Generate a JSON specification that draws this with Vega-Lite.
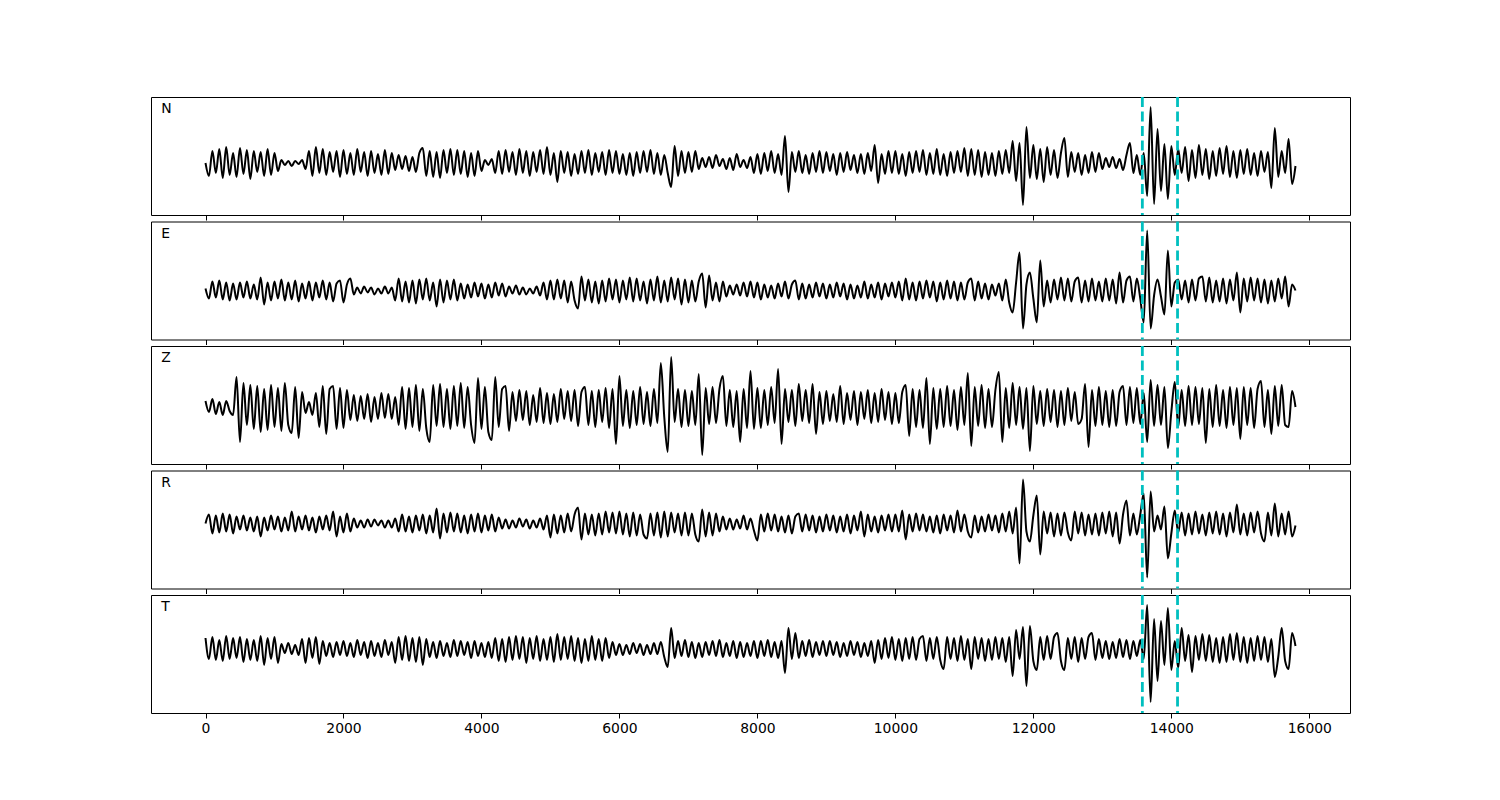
{"$schema":"https://vega.github.io/schema/vega-lite/v6.json","padding":{"left":150,"top":95,"right":0,"bottom":0},"autosize":{"type":"pad"},"background":"white","spacing":6.5,"bounds":"flush","config":{"view":{"stroke":"black","strokeWidth":1},"font":"DejaVu Sans"},
"datasets":{"w":[
{"t":0,"N":0,"E":2,"Z":6,"R":0,"T":11},{"t":50,"N":-13,"E":-8,"Z":-5,"R":9,"T":-10},{"t":100,"N":12,"E":9,"Z":8,"R":-10,"T":12},{"t":150,"N":-10,"E":-7,"Z":-7,"R":8,"T":-11},{"t":200,"N":14,"E":10,"Z":5,"R":-9,"T":9},{"t":250,"N":-15,"E":-9,"Z":-8,"R":10,"T":-12},{"t":300,"N":16,"E":8,"Z":6,"R":-8,"T":13},{"t":350,"N":-12,"E":-10,"Z":-4,"R":9,"T":-10},{"t":400,"N":10,"E":7,"Z":-8,"R":-10,"T":11},{"t":450,"N":-14,"E":-9,"Z":30,"R":7,"T":-9},{"t":500,"N":15,"E":8,"Z":-35,"R":-6,"T":12},{"t":550,"N":-11,"E":-7,"Z":24,"R":8,"T":-13},{"t":600,"N":13,"E":9,"Z":-18,"R":-7,"T":10},{"t":650,"N":-16,"E":-8,"Z":22,"R":6,"T":-11},{"t":700,"N":12,"E":6,"Z":-22,"R":-8,"T":9},{"t":750,"N":-9,"E":-9,"Z":21,"R":7,"T":-12},{"t":800,"N":11,"E":13,"Z":-25,"R":-13,"T":13},{"t":850,"N":-13,"E":-14,"Z":18,"R":6,"T":-16},{"t":900,"N":14,"E":8,"Z":-23,"R":-7,"T":11},{"t":950,"N":-12,"E":-10,"Z":22,"R":8,"T":-10},
{"t":1000,"N":10,"E":9,"Z":-20,"R":-6,"T":12},{"t":1050,"N":-8,"E":-8,"Z":19,"R":7,"T":-14},{"t":1100,"N":3,"E":11,"Z":-24,"R":-8,"T":5},{"t":1150,"N":-2,"E":-10,"Z":24,"R":6,"T":-4},{"t":1200,"N":2,"E":8,"Z":-18,"R":-7,"T":6},{"t":1250,"N":-3,"E":-9,"Z":-26,"R":12,"T":-5},{"t":1300,"N":2,"E":10,"Z":20,"R":-8,"T":4},{"t":1350,"N":-1,"E":-11,"Z":-31,"R":7,"T":-6},{"t":1400,"N":3,"E":7,"Z":15,"R":-6,"T":10},{"t":1450,"N":-6,"E":-8,"Z":-6,"R":8,"T":-14},{"t":1500,"N":12,"E":9,"Z":5,"R":-7,"T":11},{"t":1550,"N":-13,"E":-10,"Z":-8,"R":6,"T":-9},{"t":1600,"N":16,"E":8,"Z":14,"R":-9,"T":12},{"t":1650,"N":-10,"E":-7,"Z":-20,"R":7,"T":-15},{"t":1700,"N":14,"E":10,"Z":21,"R":-6,"T":8},{"t":1750,"N":-12,"E":-9,"Z":-27,"R":8,"T":-7},{"t":1800,"N":11,"E":8,"Z":18,"R":-7,"T":6},{"t":1850,"N":-9,"E":-11,"Z":21,"R":12,"T":-8},{"t":1900,"N":12,"E":7,"Z":-22,"R":-13,"T":7},{"t":1950,"N":-14,"E":10,"Z":19,"R":7,"T":-6},
{"t":2000,"N":13,"E":-12,"Z":-21,"R":-9,"T":8},{"t":2050,"N":-11,"E":6,"Z":17,"R":10,"T":-7},{"t":2100,"N":10,"E":12,"Z":-13,"R":-8,"T":6},{"t":2150,"N":-12,"E":-4,"Z":12,"R":5,"T":-8},{"t":2200,"N":14,"E":3,"Z":-14,"R":-4,"T":9},{"t":2250,"N":-9,"E":-3,"Z":11,"R":3,"T":-6},{"t":2300,"N":11,"E":4,"Z":-12,"R":-4,"T":7},{"t":2350,"N":-13,"E":-2,"Z":13,"R":4,"T":-9},{"t":2400,"N":12,"E":3,"Z":-15,"R":-3,"T":8},{"t":2450,"N":-10,"E":-4,"Z":10,"R":4,"T":-7},{"t":2500,"N":9,"E":2,"Z":-12,"R":-2,"T":6},{"t":2550,"N":-12,"E":-3,"Z":14,"R":3,"T":-8},{"t":2600,"N":13,"E":4,"Z":-11,"R":-4,"T":9},{"t":2650,"N":-11,"E":-3,"Z":13,"R":3,"T":-6},{"t":2700,"N":10,"E":3,"Z":-12,"R":-4,"T":7},{"t":2750,"N":-7,"E":-10,"Z":10,"R":5,"T":-14},{"t":2800,"N":8,"E":12,"Z":-18,"R":-8,"T":12},{"t":2850,"N":-6,"E":-11,"Z":20,"R":9,"T":-11},{"t":2900,"N":7,"E":9,"Z":-22,"R":-8,"T":13},{"t":2950,"N":-8,"E":-12,"Z":19,"R":7,"T":-12},
{"t":3000,"N":6,"E":10,"Z":-20,"R":-9,"T":11},{"t":3050,"N":-9,"E":-13,"Z":22,"R":8,"T":-13},{"t":3100,"N":10,"E":11,"Z":-24,"R":-7,"T":12},{"t":3150,"N":15,"E":-9,"Z":18,"R":9,"T":-16},{"t":3200,"N":-13,"E":12,"Z":-21,"R":-10,"T":10},{"t":3250,"N":12,"E":-10,"Z":-35,"R":8,"T":-8},{"t":3300,"N":-14,"E":8,"Z":22,"R":-9,"T":7},{"t":3350,"N":11,"E":-16,"Z":-19,"R":15,"T":-9},{"t":3400,"N":-15,"E":11,"Z":23,"R":-15,"T":8},{"t":3450,"N":13,"E":-12,"Z":-20,"R":10,"T":-7},{"t":3500,"N":-10,"E":10,"Z":18,"R":-9,"T":6},{"t":3550,"N":14,"E":-9,"Z":-22,"R":11,"T":-8},{"t":3600,"N":-12,"E":11,"Z":21,"R":-8,"T":9},{"t":3650,"N":13,"E":-10,"Z":-19,"R":10,"T":-7},{"t":3700,"N":-11,"E":7,"Z":24,"R":-9,"T":8},{"t":3750,"N":12,"E":-8,"Z":-21,"R":8,"T":-6},{"t":3800,"N":-14,"E":6,"Z":20,"R":-10,"T":7},{"t":3850,"N":10,"E":-7,"Z":-18,"R":9,"T":-9},{"t":3900,"N":-13,"E":8,"Z":-36,"R":-8,"T":8},{"t":3950,"N":12,"E":-6,"Z":29,"R":10,"T":-7},
{"t":4000,"N":-8,"E":7,"Z":-22,"R":-9,"T":6},{"t":4050,"N":3,"E":-8,"Z":20,"R":8,"T":-8},{"t":4100,"N":-2,"E":6,"Z":-25,"R":-7,"T":7},{"t":4150,"N":4,"E":-7,"Z":-33,"R":9,"T":-9},{"t":4200,"N":-10,"E":8,"Z":30,"R":-8,"T":11},{"t":4250,"N":12,"E":-5,"Z":-20,"R":6,"T":-12},{"t":4300,"N":-11,"E":7,"Z":18,"R":-5,"T":10},{"t":4350,"N":13,"E":-6,"Z":21,"R":4,"T":-13},{"t":4400,"N":-9,"E":4,"Z":-24,"R":-5,"T":12},{"t":4450,"N":11,"E":-3,"Z":15,"R":3,"T":-11},{"t":4500,"N":-12,"E":5,"Z":-14,"R":-4,"T":13},{"t":4550,"N":14,"E":-4,"Z":17,"R":5,"T":-10},{"t":4600,"N":-10,"E":3,"Z":-13,"R":-3,"T":12},{"t":4650,"N":12,"E":-4,"Z":16,"R":4,"T":-14},{"t":4700,"N":-13,"E":2,"Z":-18,"R":-5,"T":11},{"t":4750,"N":11,"E":-3,"Z":12,"R":3,"T":-10},{"t":4800,"N":-9,"E":4,"Z":-15,"R":-4,"T":13},{"t":4850,"N":13,"E":-5,"Z":19,"R":5,"T":-12},{"t":4900,"N":-11,"E":8,"Z":-16,"R":-6,"T":10},{"t":4950,"N":16,"E":-9,"Z":14,"R":8,"T":-11},
{"t":5000,"N":-12,"E":10,"Z":-17,"R":-14,"T":12},{"t":5050,"N":10,"E":-9,"Z":13,"R":9,"T":-13},{"t":5100,"N":-19,"E":11,"Z":-15,"R":-10,"T":15},{"t":5150,"N":12,"E":-8,"Z":18,"R":8,"T":-11},{"t":5200,"N":-10,"E":10,"Z":-12,"R":-9,"T":12},{"t":5250,"N":11,"E":-12,"Z":16,"R":10,"T":-10},{"t":5300,"N":-13,"E":9,"Z":-14,"R":-8,"T":13},{"t":5350,"N":9,"E":-10,"Z":17,"R":9,"T":-12},{"t":5400,"N":-11,"E":-18,"Z":-19,"R":16,"T":11},{"t":5450,"N":12,"E":14,"Z":15,"R":-16,"T":-14},{"t":5500,"N":-10,"E":-10,"Z":20,"R":10,"T":10},{"t":5550,"N":13,"E":11,"Z":-18,"R":-11,"T":-12},{"t":5600,"N":-12,"E":-12,"Z":16,"R":9,"T":13},{"t":5650,"N":10,"E":9,"Z":-20,"R":-12,"T":-11},{"t":5700,"N":-9,"E":-13,"Z":17,"R":10,"T":10},{"t":5750,"N":11,"E":10,"Z":-15,"R":-11,"T":-12},{"t":5800,"N":-12,"E":-11,"Z":19,"R":12,"T":11},{"t":5850,"N":13,"E":12,"Z":-21,"R":-9,"T":-9},{"t":5900,"N":-10,"E":-9,"Z":18,"R":11,"T":7},{"t":5950,"N":12,"E":11,"Z":-37,"R":-10,"T":-6},
{"t":6000,"N":-11,"E":-12,"Z":31,"R":12,"T":5},{"t":6050,"N":9,"E":10,"Z":-19,"R":-11,"T":-6},{"t":6100,"N":-12,"E":-9,"Z":17,"R":10,"T":4},{"t":6150,"N":10,"E":13,"Z":-21,"R":-13,"T":-5},{"t":6200,"N":-13,"E":-11,"Z":16,"R":11,"T":6},{"t":6250,"N":11,"E":12,"Z":-18,"R":-12,"T":-4},{"t":6300,"N":-10,"E":-10,"Z":20,"R":9,"T":5},{"t":6350,"N":12,"E":9,"Z":-17,"R":-11,"T":-6},{"t":6400,"N":-9,"E":-13,"Z":15,"R":-15,"T":4},{"t":6450,"N":13,"E":11,"Z":-19,"R":10,"T":-5},{"t":6500,"N":-11,"E":-10,"Z":18,"R":-12,"T":6},{"t":6550,"N":10,"E":14,"Z":-16,"R":11,"T":-5},{"t":6600,"N":-12,"E":-12,"Z":44,"R":-14,"T":7},{"t":6650,"N":8,"E":10,"Z":-10,"R":12,"T":-8},{"t":6700,"N":-10,"E":-11,"Z":-45,"R":-13,"T":-18},{"t":6750,"N":-24,"E":13,"Z":50,"R":11,"T":21},{"t":6800,"N":17,"E":-9,"Z":-15,"R":-9,"T":-9},{"t":6850,"N":-13,"E":12,"Z":18,"R":10,"T":8},{"t":6900,"N":12,"E":-14,"Z":-20,"R":-12,"T":-7},{"t":6950,"N":-10,"E":11,"Z":17,"R":11,"T":9},
{"t":7000,"N":11,"E":-12,"Z":-19,"R":-12,"T":-8},{"t":7050,"N":-9,"E":10,"Z":16,"R":10,"T":7},{"t":7100,"N":12,"E":-11,"Z":-18,"R":-11,"T":-9},{"t":7150,"N":-6,"E":9,"Z":33,"R":-18,"T":6},{"t":7200,"N":5,"E":17,"Z":-48,"R":14,"T":-8},{"t":7250,"N":-4,"E":-17,"Z":19,"R":-13,"T":7},{"t":7300,"N":6,"E":15,"Z":-17,"R":11,"T":-6},{"t":7350,"N":-5,"E":-10,"Z":20,"R":-12,"T":8},{"t":7400,"N":8,"E":8,"Z":-16,"R":10,"T":-7},{"t":7450,"N":-3,"E":-11,"Z":18,"R":-8,"T":9},{"t":7500,"N":4,"E":9,"Z":31,"R":7,"T":-8},{"t":7550,"N":-6,"E":-6,"Z":-19,"R":-6,"T":6},{"t":7600,"N":5,"E":5,"Z":17,"R":5,"T":-7},{"t":7650,"N":-7,"E":-4,"Z":-20,"R":-6,"T":8},{"t":7700,"N":9,"E":6,"Z":16,"R":4,"T":-9},{"t":7750,"N":-4,"E":-5,"Z":-35,"R":-5,"T":7},{"t":7800,"N":3,"E":8,"Z":18,"R":8,"T":-8},{"t":7850,"N":-5,"E":-6,"Z":-21,"R":-6,"T":6},{"t":7900,"N":6,"E":9,"Z":36,"R":5,"T":-7},{"t":7950,"N":-10,"E":-7,"Z":-22,"R":-7,"T":8},
{"t":8000,"N":9,"E":8,"Z":19,"R":-17,"T":-9},{"t":8050,"N":-11,"E":-9,"Z":-21,"R":9,"T":8},{"t":8100,"N":10,"E":6,"Z":17,"R":-8,"T":-7},{"t":8150,"N":-8,"E":-7,"Z":-18,"R":10,"T":9},{"t":8200,"N":12,"E":5,"Z":20,"R":-7,"T":-8},{"t":8250,"N":-10,"E":-8,"Z":-16,"R":9,"T":7},{"t":8300,"N":9,"E":7,"Z":38,"R":-8,"T":-9},{"t":8350,"N":-12,"E":-6,"Z":-37,"R":7,"T":8},{"t":8400,"N":27,"E":9,"Z":18,"R":-9,"T":-24},{"t":8450,"N":-29,"E":-8,"Z":-15,"R":8,"T":21},{"t":8500,"N":11,"E":6,"Z":17,"R":-10,"T":-10},{"t":8550,"N":-9,"E":10,"Z":-19,"R":7,"T":16},{"t":8600,"N":12,"E":-9,"Z":23,"R":10,"T":-9},{"t":8650,"N":-10,"E":7,"Z":-14,"R":-8,"T":8},{"t":8700,"N":8,"E":-8,"Z":17,"R":9,"T":-7},{"t":8750,"N":-11,"E":6,"Z":-16,"R":-7,"T":9},{"t":8800,"N":10,"E":-7,"Z":23,"R":8,"T":-8},{"t":8850,"N":-9,"E":8,"Z":-27,"R":-9,"T":7},{"t":8900,"N":12,"E":-6,"Z":15,"R":7,"T":-6},{"t":8950,"N":-10,"E":7,"Z":-17,"R":-8,"T":8},
{"t":9000,"N":11,"E":-8,"Z":16,"R":9,"T":-7},{"t":9050,"N":-8,"E":6,"Z":-14,"R":-7,"T":8},{"t":9100,"N":9,"E":-7,"Z":13,"R":8,"T":-6},{"t":9150,"N":-12,"E":8,"Z":-15,"R":-9,"T":7},{"t":9200,"N":10,"E":-6,"Z":21,"R":7,"T":-8},{"t":9250,"N":-9,"E":7,"Z":-17,"R":-8,"T":6},{"t":9300,"N":11,"E":-9,"Z":14,"R":9,"T":-7},{"t":9350,"N":-7,"E":6,"Z":-13,"R":-10,"T":8},{"t":9400,"N":8,"E":-8,"Z":16,"R":8,"T":-6},{"t":9450,"N":-10,"E":5,"Z":-18,"R":-7,"T":7},{"t":9500,"N":9,"E":-7,"Z":15,"R":12,"T":-8},{"t":9550,"N":-11,"E":9,"Z":-12,"R":-13,"T":6},{"t":9600,"N":10,"E":-8,"Z":17,"R":9,"T":-7},{"t":9650,"N":-8,"E":6,"Z":-16,"R":-8,"T":8},{"t":9700,"N":18,"E":-7,"Z":14,"R":7,"T":-14},{"t":9750,"N":-20,"E":8,"Z":-15,"R":-9,"T":9},{"t":9800,"N":9,"E":-9,"Z":18,"R":8,"T":-10},{"t":9850,"N":-11,"E":7,"Z":-13,"R":-7,"T":11},{"t":9900,"N":12,"E":-6,"Z":15,"R":9,"T":-9},{"t":9950,"N":-10,"E":8,"Z":-17,"R":-8,"T":12},
{"t":10000,"N":12,"E":-7,"Z":14,"R":9,"T":-11},{"t":10050,"N":-11,"E":9,"Z":-16,"R":-8,"T":10},{"t":10100,"N":9,"E":-10,"Z":15,"R":13,"T":-12},{"t":10150,"N":-13,"E":12,"Z":22,"R":-16,"T":11},{"t":10200,"N":11,"E":-9,"Z":-29,"R":9,"T":-10},{"t":10250,"N":-10,"E":8,"Z":18,"R":-8,"T":12},{"t":10300,"N":12,"E":-10,"Z":-20,"R":10,"T":-11},{"t":10350,"N":-9,"E":9,"Z":17,"R":-7,"T":10},{"t":10400,"N":13,"E":-8,"Z":-21,"R":9,"T":13},{"t":10450,"N":-12,"E":10,"Z":29,"R":-8,"T":-12},{"t":10500,"N":10,"E":-7,"Z":-37,"R":7,"T":11},{"t":10550,"N":-11,"E":9,"Z":19,"R":-9,"T":-10},{"t":10600,"N":14,"E":-11,"Z":-22,"R":8,"T":12},{"t":10650,"N":-12,"E":8,"Z":18,"R":-10,"T":-11},{"t":10700,"N":9,"E":-9,"Z":-20,"R":9,"T":-20},{"t":10750,"N":-13,"E":10,"Z":21,"R":-7,"T":12},{"t":10800,"N":11,"E":-8,"Z":-19,"R":8,"T":-10},{"t":10850,"N":-10,"E":9,"Z":17,"R":-9,"T":11},{"t":10900,"N":12,"E":-10,"Z":-23,"R":13,"T":-12},{"t":10950,"N":-9,"E":8,"Z":20,"R":-8,"T":13},
{"t":11000,"N":15,"E":-9,"Z":-18,"R":9,"T":-11},{"t":11050,"N":-13,"E":8,"Z":34,"R":-8,"T":10},{"t":11100,"N":14,"E":12,"Z":-39,"R":-14,"T":-20},{"t":11150,"N":-12,"E":-10,"Z":20,"R":8,"T":12},{"t":11200,"N":13,"E":9,"Z":-19,"R":-9,"T":-10},{"t":11250,"N":-14,"E":-8,"Z":22,"R":7,"T":11},{"t":11300,"N":11,"E":7,"Z":-21,"R":-8,"T":-12},{"t":11350,"N":-12,"E":-9,"Z":18,"R":9,"T":10},{"t":11400,"N":10,"E":6,"Z":-20,"R":-7,"T":-11},{"t":11450,"N":-13,"E":-5,"Z":17,"R":8,"T":12},{"t":11500,"N":12,"E":7,"Z":35,"R":-9,"T":-10},{"t":11550,"N":-11,"E":-10,"Z":-35,"R":10,"T":11},{"t":11600,"N":13,"E":11,"Z":19,"R":-8,"T":-13},{"t":11650,"N":-10,"E":-12,"Z":-21,"R":12,"T":12},{"t":11700,"N":22,"E":-22,"Z":24,"R":-10,"T":-27},{"t":11750,"N":-18,"E":8,"Z":-18,"R":16,"T":19},{"t":11800,"N":20,"E":38,"Z":20,"R":-40,"T":-10},{"t":11850,"N":-42,"E":-38,"Z":-22,"R":44,"T":22},{"t":11900,"N":36,"E":6,"Z":19,"R":-8,"T":-37},{"t":11950,"N":-15,"E":18,"Z":-44,"R":-18,"T":23},
{"t":12000,"N":18,"E":-8,"Z":21,"R":8,"T":-12},{"t":12050,"N":-16,"E":-32,"Z":-17,"R":28,"T":-21},{"t":12100,"N":14,"E":30,"Z":16,"R":-31,"T":12},{"t":12150,"N":-19,"E":-16,"Z":-19,"R":12,"T":-11},{"t":12200,"N":16,"E":10,"Z":18,"R":-10,"T":13},{"t":12250,"N":-12,"E":-12,"Z":-15,"R":11,"T":-10},{"t":12300,"N":13,"E":11,"Z":17,"R":-13,"T":12},{"t":12350,"N":-15,"E":-9,"Z":-20,"R":10,"T":16},{"t":12400,"N":10,"E":13,"Z":16,"R":-12,"T":-12},{"t":12450,"N":25,"E":-10,"Z":-18,"R":11,"T":-21},{"t":12500,"N":-14,"E":12,"Z":19,"R":-9,"T":11},{"t":12550,"N":11,"E":-11,"Z":-14,"R":-17,"T":-10},{"t":12600,"N":-9,"E":9,"Z":15,"R":12,"T":12},{"t":12650,"N":10,"E":13,"Z":-17,"R":-10,"T":-13},{"t":12700,"N":-12,"E":-12,"Z":-12,"R":11,"T":11},{"t":12750,"N":8,"E":10,"Z":23,"R":-12,"T":-10},{"t":12800,"N":-10,"E":-11,"Z":-40,"R":9,"T":12},{"t":12850,"N":11,"E":12,"Z":17,"R":-11,"T":16},{"t":12900,"N":-9,"E":-10,"Z":-19,"R":10,"T":-11},{"t":12950,"N":10,"E":9,"Z":20,"R":-12,"T":10},
{"t":13000,"N":-6,"E":-11,"Z":-18,"R":11,"T":-9},{"t":13050,"N":5,"E":12,"Z":16,"R":-10,"T":8},{"t":13100,"N":-4,"E":-10,"Z":-20,"R":12,"T":-10},{"t":13150,"N":6,"E":11,"Z":17,"R":-13,"T":7},{"t":13200,"N":-5,"E":-13,"Z":-19,"R":11,"T":-9},{"t":13250,"N":4,"E":18,"Z":15,"R":-20,"T":10},{"t":13300,"N":-7,"E":-12,"Z":21,"R":9,"T":-8},{"t":13350,"N":8,"E":10,"Z":-18,"R":23,"T":9},{"t":13400,"N":20,"E":14,"Z":20,"R":-12,"T":-10},{"t":13450,"N":-10,"E":-11,"Z":-16,"R":10,"T":8},{"t":13500,"N":8,"E":12,"Z":19,"R":-11,"T":-7},{"t":13550,"N":-12,"E":-8,"Z":-17,"R":9,"T":9},{"t":13600,"N":10,"E":-32,"Z":14,"R":30,"T":-10},{"t":13650,"N":-33,"E":60,"Z":-35,"R":-54,"T":44},{"t":13700,"N":56,"E":-38,"Z":27,"R":32,"T":-53},{"t":13750,"N":-41,"E":-5,"Z":-19,"R":-8,"T":30},{"t":13800,"N":34,"E":11,"Z":22,"R":8,"T":-32},{"t":13850,"N":-28,"E":-6,"Z":-18,"R":-6,"T":28},{"t":13900,"N":19,"E":-24,"Z":20,"R":17,"T":-16},{"t":13950,"N":-36,"E":40,"Z":-41,"R":-35,"T":41},
{"t":14000,"N":17,"E":-16,"Z":-5,"R":-10,"T":-21},{"t":14050,"N":-12,"E":8,"Z":25,"R":13,"T":8},{"t":14100,"N":14,"E":11,"Z":-20,"R":-9,"T":-19},{"t":14150,"N":-10,"E":-9,"Z":17,"R":11,"T":21},{"t":14200,"N":16,"E":10,"Z":-19,"R":-12,"T":-12},{"t":14250,"N":-18,"E":-12,"Z":21,"R":10,"T":14},{"t":14300,"N":13,"E":11,"Z":-18,"R":-11,"T":-23},{"t":14350,"N":-15,"E":-10,"Z":20,"R":12,"T":13},{"t":14400,"N":18,"E":12,"Z":-17,"R":-10,"T":-11},{"t":14450,"N":-12,"E":14,"Z":19,"R":9,"T":15},{"t":14500,"N":14,"E":-11,"Z":-36,"R":-12,"T":-12},{"t":14550,"N":-16,"E":13,"Z":18,"R":11,"T":14},{"t":14600,"N":12,"E":-12,"Z":-20,"R":-10,"T":-13},{"t":14650,"N":-13,"E":10,"Z":22,"R":12,"T":11},{"t":14700,"N":15,"E":-11,"Z":-19,"R":-11,"T":-14},{"t":14750,"N":-11,"E":12,"Z":17,"R":10,"T":12},{"t":14800,"N":17,"E":-13,"Z":-21,"R":-13,"T":-13},{"t":14850,"N":-14,"E":11,"Z":20,"R":11,"T":15},{"t":14900,"N":12,"E":-10,"Z":-18,"R":-9,"T":-11},{"t":14950,"N":-15,"E":18,"Z":19,"R":19,"T":16},
{"t":15000,"N":13,"E":-22,"Z":-32,"R":-11,"T":-13},{"t":15050,"N":-11,"E":12,"Z":20,"R":10,"T":12},{"t":15100,"N":14,"E":-11,"Z":-18,"R":-12,"T":-14},{"t":15150,"N":-12,"E":13,"Z":19,"R":11,"T":11},{"t":15200,"N":10,"E":-10,"Z":-21,"R":-9,"T":-12},{"t":15250,"N":-13,"E":12,"Z":18,"R":12,"T":13},{"t":15300,"N":12,"E":-12,"Z":26,"R":-10,"T":-11},{"t":15350,"N":-9,"E":11,"Z":-20,"R":-18,"T":12},{"t":15400,"N":11,"E":-13,"Z":17,"R":11,"T":-13},{"t":15450,"N":-25,"E":10,"Z":-27,"R":-12,"T":10},{"t":15500,"N":35,"E":-11,"Z":21,"R":20,"T":-28},{"t":15550,"N":-14,"E":12,"Z":-19,"R":-13,"T":-8},{"t":15600,"N":12,"E":-8,"Z":22,"R":10,"T":21},{"t":15650,"N":-10,"E":14,"Z":-18,"R":-11,"T":-12},{"t":15700,"N":24,"E":-16,"Z":-20,"R":12,"T":-20},{"t":15750,"N":-21,"E":6,"Z":16,"R":-13,"T":16},{"t":15800,"N":-3,"E":0,"Z":0,"R":-2,"T":3}
],
"picks":[{"t":13580},{"t":14090}]},
"vconcat":[
{"width":1199,"height":118,"layer":[
{"data":{"name":"w"},"mark":{"type":"line","color":"black","strokeWidth":2,"interpolate":"monotone"},"encoding":{"x":{"field":"t","type":"quantitative","scale":{"domain":[-790,16590],"nice":false,"zero":false},"axis":{"values":[0,2000,4000,6000,8000,10000,12000,14000,16000],"labels":false,"ticks":true,"tickSize":5,"tickColor":"black","tickWidth":1,"domain":false,"grid":false,"title":null}},"y":{"field":"N","type":"quantitative","scale":{"domain":[-52,66],"nice":false,"zero":false},"axis":null}}},
{"data":{"name":"picks"},"mark":{"type":"rule","color":"#00bfbf","strokeWidth":2.8,"strokeDash":[10,4.5]},"encoding":{"x":{"field":"t","type":"quantitative"}}},
{"data":{"values":[{"lab":"N"}]},"mark":{"type":"text","align":"left","baseline":"middle","fontSize":13.9,"font":"DejaVu Sans","color":"black"},"encoding":{"text":{"field":"lab"},"x":{"datum":-640},"y":{"datum":54}}}
]},
{"width":1199,"height":118,"layer":[
{"data":{"name":"w"},"mark":{"type":"line","color":"black","strokeWidth":2,"interpolate":"monotone"},"encoding":{"x":{"field":"t","type":"quantitative","scale":{"domain":[-790,16590],"nice":false,"zero":false},"axis":{"values":[0,2000,4000,6000,8000,10000,12000,14000,16000],"labels":false,"ticks":true,"tickSize":5,"tickColor":"black","tickWidth":1,"domain":false,"grid":false,"title":null}},"y":{"field":"E","type":"quantitative","scale":{"domain":[-49,69],"nice":false,"zero":false},"axis":null}}},
{"data":{"name":"picks"},"mark":{"type":"rule","color":"#00bfbf","strokeWidth":2.8,"strokeDash":[10,4.5]},"encoding":{"x":{"field":"t","type":"quantitative"}}},
{"data":{"values":[{"lab":"E"}]},"mark":{"type":"text","align":"left","baseline":"middle","fontSize":13.9,"font":"DejaVu Sans","color":"black"},"encoding":{"text":{"field":"lab"},"x":{"datum":-640},"y":{"datum":57}}}
]},
{"width":1199,"height":118,"layer":[
{"data":{"name":"w"},"mark":{"type":"line","color":"black","strokeWidth":2,"interpolate":"monotone"},"encoding":{"x":{"field":"t","type":"quantitative","scale":{"domain":[-790,16590],"nice":false,"zero":false},"axis":{"values":[0,2000,4000,6000,8000,10000,12000,14000,16000],"labels":false,"ticks":true,"tickSize":5,"tickColor":"black","tickWidth":1,"domain":false,"grid":false,"title":null}},"y":{"field":"Z","type":"quantitative","scale":{"domain":[-57,61],"nice":false,"zero":false},"axis":null}}},
{"data":{"name":"picks"},"mark":{"type":"rule","color":"#00bfbf","strokeWidth":2.8,"strokeDash":[10,4.5]},"encoding":{"x":{"field":"t","type":"quantitative"}}},
{"data":{"values":[{"lab":"Z"}]},"mark":{"type":"text","align":"left","baseline":"middle","fontSize":13.9,"font":"DejaVu Sans","color":"black"},"encoding":{"text":{"field":"lab"},"x":{"datum":-640},"y":{"datum":49}}}
]},
{"width":1199,"height":118,"layer":[
{"data":{"name":"w"},"mark":{"type":"line","color":"black","strokeWidth":2,"interpolate":"monotone"},"encoding":{"x":{"field":"t","type":"quantitative","scale":{"domain":[-790,16590],"nice":false,"zero":false},"axis":{"values":[0,2000,4000,6000,8000,10000,12000,14000,16000],"labels":false,"ticks":true,"tickSize":5,"tickColor":"black","tickWidth":1,"domain":false,"grid":false,"title":null}},"y":{"field":"R","type":"quantitative","scale":{"domain":[-65,53],"nice":false,"zero":false},"axis":null}}},
{"data":{"name":"picks"},"mark":{"type":"rule","color":"#00bfbf","strokeWidth":2.8,"strokeDash":[10,4.5]},"encoding":{"x":{"field":"t","type":"quantitative"}}},
{"data":{"values":[{"lab":"R"}]},"mark":{"type":"text","align":"left","baseline":"middle","fontSize":13.9,"font":"DejaVu Sans","color":"black"},"encoding":{"text":{"field":"lab"},"x":{"datum":-640},"y":{"datum":41}}}
]},
{"width":1199,"height":118,"layer":[
{"data":{"name":"w"},"mark":{"type":"line","color":"black","strokeWidth":2,"interpolate":"monotone"},"encoding":{"x":{"field":"t","type":"quantitative","scale":{"domain":[-790,16590],"nice":false,"zero":false},"axis":{"values":[0,2000,4000,6000,8000,10000,12000,14000,16000],"format":"d","labels":true,"labelFontSize":13.9,"labelFont":"DejaVu Sans","labelColor":"black","labelPadding":3,"labelFlush":false,"ticks":true,"tickSize":5,"tickColor":"black","tickWidth":1,"domain":false,"grid":false,"title":null}},"y":{"field":"T","type":"quantitative","scale":{"domain":[-64,54],"nice":false,"zero":false},"axis":null}}},
{"data":{"name":"picks"},"mark":{"type":"rule","color":"#00bfbf","strokeWidth":2.8,"strokeDash":[10,4.5]},"encoding":{"x":{"field":"t","type":"quantitative"}}},
{"data":{"values":[{"lab":"T"}]},"mark":{"type":"text","align":"left","baseline":"middle","fontSize":13.9,"font":"DejaVu Sans","color":"black"},"encoding":{"text":{"field":"lab"},"x":{"datum":-640},"y":{"datum":42}}}
]}
]}
